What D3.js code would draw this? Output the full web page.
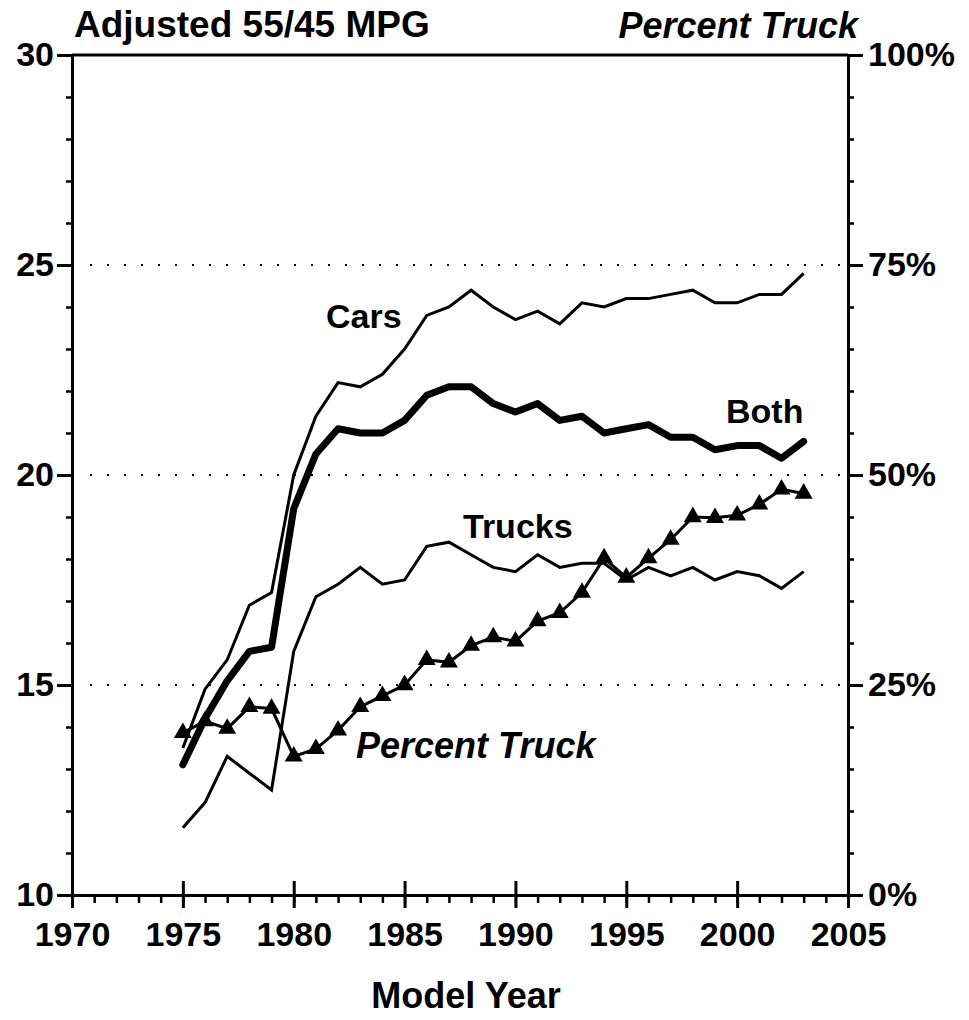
<!DOCTYPE html>
<html>
<head>
    <title>Adjusted 55/45 MPG</title>
    <script src="https://d3js.org/d3.v7.min.js"></script>
    <style>
        body { margin: 0; background: #fff; }
        text {
            font-family: "Liberation Sans", Arial, sans-serif;
            font-weight: bold;
            fill: #000;
        }
        .lbl { font-size: 34px; }
        .ital { font-style: italic; font-size: 36px; }
        .tick text { font-size: 34px; }
        .domain, .tick line { stroke: #000; }
    </style>
</head>
<body>
<svg width="969" height="1020"></svg>
<script>
    var years = d3.range(1975, 2004);
    var cars = [13.5, 14.9, 15.6, 16.9, 17.2, 20.0, 21.4, 22.2, 22.1, 22.4, 23.0, 23.8, 24.0, 24.4, 24.0,
                23.7, 23.9, 23.6, 24.1, 24.0, 24.2, 24.2, 24.3, 24.4, 24.1, 24.1, 24.3, 24.3, 24.8];
    var trucks = [11.6, 12.2, 13.3, 12.9, 12.5, 15.8, 17.1, 17.4, 17.8, 17.4, 17.5, 18.3, 18.4, 18.1, 17.8,
                  17.7, 18.1, 17.8, 17.9, 17.9, 17.5, 17.8, 17.6, 17.8, 17.5, 17.7, 17.6, 17.3, 17.7];
    var both = [13.1, 14.2, 15.1, 15.8, 15.9, 19.2, 20.5, 21.1, 21.0, 21.0, 21.3, 21.9, 22.1, 22.1, 21.7,
                21.5, 21.7, 21.3, 21.4, 21.0, 21.1, 21.2, 20.9, 20.9, 20.6, 20.7, 20.7, 20.4, 20.8];
    var pctTruck = [19.3, 20.7, 19.8, 22.4, 22.2, 16.5, 17.4, 19.6, 22.4, 23.7, 25.0, 28.0, 27.7, 29.7, 30.7,
                    30.2, 32.6, 33.6, 36.0, 40.1, 37.8, 40.1, 42.3, 45.0, 44.9, 45.2, 46.5, 48.3, 47.8];

    var xTicks = d3.range(1970, 2006, 5);
    var mpgTicks = [10, 15, 20, 25, 30];
    var pctTicks = [0, 25, 50, 75, 100];
    var gridMpg = [15, 20, 25];

    var svg = d3.select("svg");
    var x = d3.scaleLinear().domain([1970, 2005]).range([72, 848]);
    var yL = d3.scaleLinear().domain([10, 30]).range([895, 55]);
    var yR = d3.scaleLinear().domain([0, 100]).range([895, 55]);

    // dotted grid
    svg.append("g").selectAll("line").data(gridMpg).enter().append("line")
        .attr("x1", x(1970) + 18).attr("x2", x(2005) - 4)
        .attr("y1", d => yL(d)).attr("y2", d => yL(d))
        .attr("stroke", "#000").attr("stroke-width", 2)
        .attr("stroke-dasharray", "2,15");

    // top frame
    svg.append("line")
        .attr("x1", x(1970)).attr("x2", x(2005))
        .attr("y1", yL(30)).attr("y2", yL(30))
        .attr("stroke", "#000").attr("stroke-width", 3);

    // minor ticks
    svg.append("g").attr("transform", "translate(" + x(1970) + ",0)")
        .call(d3.axisLeft(yL).tickValues(d3.range(10, 31)).tickSize(6).tickSizeOuter(0).tickFormat(""))
        .call(g => g.selectAll("line").attr("stroke-width", 2.5))
        .call(g => g.select(".domain").attr("stroke-width", 3));
    svg.append("g").attr("transform", "translate(" + x(2005) + ",0)")
        .call(d3.axisRight(yR).tickValues(d3.range(0, 101, 5)).tickSize(6).tickSizeOuter(0).tickFormat(""))
        .call(g => g.selectAll("line").attr("stroke-width", 2.5))
        .call(g => g.select(".domain").attr("stroke-width", 3));
    svg.append("g").attr("transform", "translate(0," + yL(10) + ")")
        .call(d3.axisBottom(x).tickValues(d3.range(1970, 2006)).tickSize(8).tickSizeOuter(0).tickFormat(""))
        .call(g => g.selectAll("line").attr("stroke-width", 2.5))
        .call(g => g.select(".domain").attr("stroke-width", 3));

    // major ticks + labels
    svg.append("g").attr("transform", "translate(" + x(1970) + ",0)")
        .call(d3.axisLeft(yL).tickValues(mpgTicks).tickSize(15).tickPadding(3).tickSizeOuter(0))
        .call(g => g.select(".domain").remove())
        .call(g => g.selectAll("line").attr("stroke-width", 3))
        .call(g => g.selectAll("text").attr("font-family", null).attr("font-size", null));
    svg.append("g").attr("transform", "translate(" + x(2005) + ",0)")
        .call(d3.axisRight(yR).tickValues(pctTicks).tickSize(15).tickPadding(5).tickSizeOuter(0)
            .tickFormat(d => d + "%"))
        .call(g => g.select(".domain").remove())
        .call(g => g.selectAll("line").attr("stroke-width", 3))
        .call(g => g.selectAll("text").attr("font-family", null).attr("font-size", null));
    svg.append("g").attr("transform", "translate(0," + yL(10) + ")")
        .call(d3.axisBottom(x).tickValues(xTicks).tickSize(13).tickPadding(14).tickSizeOuter(0)
            .tickFormat(d3.format("d")))
        .call(g => g.select(".domain").remove())
        .call(g => g.selectAll("line").attr("y1", -14).attr("stroke-width", 3))
        .call(g => g.selectAll("text").attr("font-family", null).attr("font-size", null));

    // series
    var lineMpg = d3.line().x((d, i) => x(years[i])).y(d => yL(d));
    var linePct = d3.line().x((d, i) => x(years[i])).y(d => yR(d));

    svg.append("path").datum(cars).attr("d", lineMpg)
        .attr("fill", "none").attr("stroke", "#000").attr("stroke-width", 3);
    svg.append("path").datum(trucks).attr("d", lineMpg)
        .attr("fill", "none").attr("stroke", "#000").attr("stroke-width", 3);
    svg.append("path").datum(both).attr("d", lineMpg)
        .attr("fill", "none").attr("stroke", "#000").attr("stroke-width", 7)
        .attr("stroke-linecap", "round").attr("stroke-linejoin", "round");
    svg.append("path").datum(pctTruck).attr("d", linePct)
        .attr("fill", "none").attr("stroke", "#000").attr("stroke-width", 3);
    svg.append("g").selectAll("path").data(pctTruck).enter().append("path")
        .attr("d", d3.symbol(d3.symbolTriangle).size(140))
        .attr("transform", (d, i) => "translate(" + x(years[i]) + "," + yR(d) + ")")
        .attr("fill", "#000");

    // titles and labels
    svg.append("text").attr("x", 74).attr("y", 37).attr("font-size", 37).text("Adjusted 55/45 MPG");
    svg.append("text").attr("class", "ital").attr("x", 858).attr("y", 38)
        .attr("text-anchor", "end").text("Percent Truck");
    svg.append("text").attr("x", 466).attr("y", 1008).attr("font-size", 36)
        .attr("text-anchor", "middle").text("Model Year");

    svg.append("text").attr("class", "lbl").attr("x", 326).attr("y", 328).text("Cars");
    svg.append("text").attr("class", "lbl").attr("x", 726).attr("y", 423).text("Both");
    svg.append("text").attr("class", "lbl").attr("x", 463).attr("y", 538).text("Trucks");
    svg.append("text").attr("class", "lbl ital").attr("x", 356).attr("y", 758).text("Percent Truck");
</script>
</body>
</html>
